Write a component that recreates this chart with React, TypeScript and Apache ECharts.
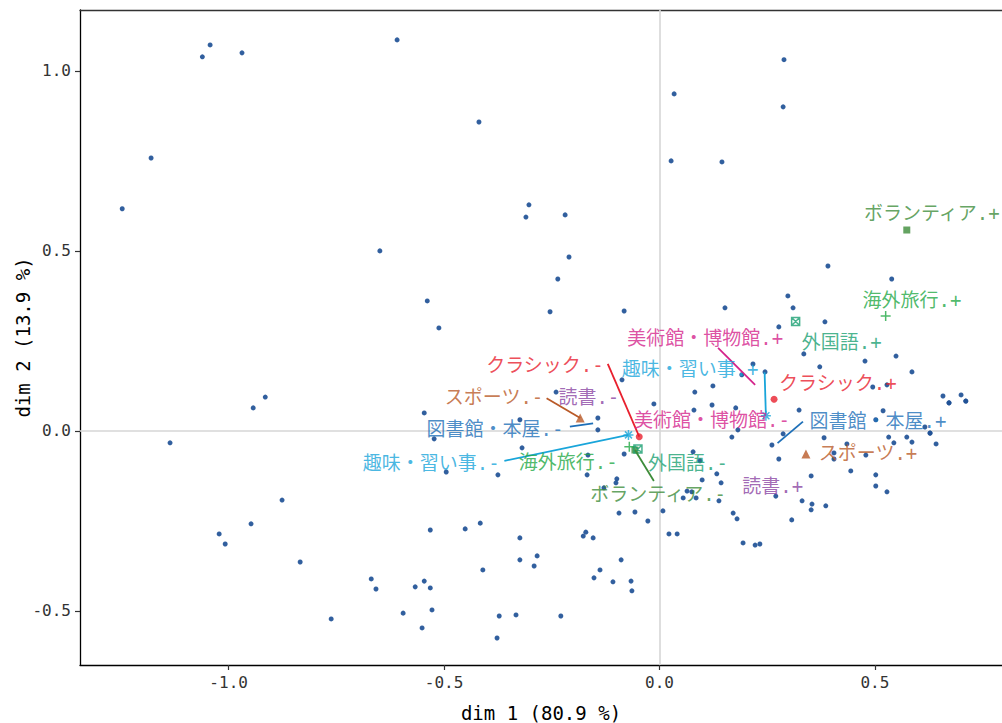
import React, { useEffect, useRef } from "react";
import * as echarts from "echarts";

// Individuals: coordinates on dim 1 / dim 2
const indDim1 = [
  -1.043, -1.061, -0.969, -1.18, -1.247, -0.649, -0.609, -0.419, 0.034, 0.027,
  -0.303, -0.31, -0.219, -0.21, 0.289, 0.287, 0.145, -0.915, -0.943, -1.136,
  -0.876, -0.948, -1.022, -1.008, -0.834, -0.669, -0.658, -0.762, -0.236, -0.539,
  -0.254, -0.082, -0.512, -0.087, -0.013, -0.24, -0.546, -0.143, -0.143, -0.324,
  -0.523, -0.319, -0.495, -0.375, -0.082, -0.166, -0.168, -0.099, -0.101, -0.129,
  -0.094, -0.057, -0.027, 0.008, 0.022, 0.041, -0.532, -0.451, -0.416, -0.324,
  -0.324, -0.284, -0.291, -0.41, -0.177, -0.171, -0.154, -0.089, -0.138, -0.152,
  -0.108, -0.066, -0.064, -0.567, -0.546, -0.532, -0.595, -0.528, -0.551, -0.372,
  -0.333, -0.229, -0.377, 0.082, 0.08, 0.391, 0.539, 0.298, 0.152, 0.31,
  0.277, 0.384, 0.335, 0.477, 0.549, 0.372, 0.586, 0.217, 0.245, 0.124,
  0.191, 0.495, 0.528, 0.658, 0.7, 0.672, 0.672, 0.711, 0.711, 0.122,
  0.177, 0.324, 0.519, 0.502, 0.616, 0.628, 0.628, 0.168, 0.182, 0.382,
  0.532, 0.574, 0.642, 0.544, 0.586, 0.479, 0.435, 0.405, 0.405, 0.261,
  0.277, 0.078, 0.094, 0.133, 0.143, 0.099, 0.064, 0.075, 0.055, 0.085,
  0.138, 0.352, 0.444, 0.502, 0.502, 0.528, 0.27, 0.331, 0.354, 0.352,
  0.386, 0.307, 0.171, 0.18, 0.194, 0.222, 0.233, 0.287,
];
const indDim2 = [
  1.072, 1.039, 1.05, 0.758, 0.617, 0.5, 1.086, 0.858, 0.936, 0.75,
  0.628, 0.594, 0.6, 0.483, 1.031, 0.9, 0.747, 0.094, 0.064, -0.033,
  -0.192, -0.258, -0.286, -0.314, -0.364, -0.411, -0.439, -0.522, 0.422, 0.361,
  0.331, 0.333, 0.286, 0.142, 0.075, 0.108, 0.05, 0.036, 0.003, 0.031,
  -0.022, -0.047, -0.114, -0.122, -0.064, -0.067, -0.122, -0.133, -0.144, -0.158,
  -0.228, -0.225, -0.25, -0.222, -0.286, -0.286, -0.275, -0.272, -0.256, -0.297,
  -0.358, -0.347, -0.375, -0.386, -0.292, -0.281, -0.297, -0.358, -0.386, -0.408,
  -0.419, -0.417, -0.444, -0.433, -0.417, -0.436, -0.506, -0.497, -0.547, -0.514,
  -0.511, -0.514, -0.575, 0.108, 0.058, 0.458, 0.422, 0.375, 0.342, 0.342,
  0.289, 0.303, 0.214, 0.194, 0.208, 0.178, 0.164, 0.186, 0.164, 0.125,
  0.156, 0.122, 0.128, 0.097, 0.1, 0.078, 0.078, 0.083, 0.083, 0.072,
  0.064, 0.058, 0.056, 0.031, 0.011, -0.006, -0.006, -0.017, 0.003, -0.019,
  -0.017, -0.017, -0.036, -0.033, -0.031, -0.067, -0.036, -0.061, -0.078, -0.039,
  -0.078, -0.058, -0.083, -0.119, -0.144, -0.136, -0.167, -0.169, -0.186, -0.186,
  -0.194, -0.125, -0.111, -0.122, -0.153, -0.169, -0.181, -0.194, -0.203, -0.219,
  -0.208, -0.247, -0.228, -0.244, -0.311, -0.317, -0.314, -0.008,
];

// Variables (each has a "+" and a "-" category)
const variables = [
  "クラシック", "スポーツ", "ボランティア", "海外旅行", "外国語",
  "趣味・習い事", "図書館・本屋", "読書", "美術館・博物館",
];

// Categories: name, variable index, coordinates
const catNames = [
  "クラシック.+", "クラシック.-", "スポーツ.+", "スポーツ.-",
  "ボランティア.+", "ボランティア.-", "海外旅行.+", "海外旅行.-",
  "外国語.+", "外国語.-", "趣味・習い事.+", "趣味・習い事.-",
  "図書館・本屋.+", "図書館・本屋.-", "読書.+", "読書.-",
  "美術館・博物館.+", "美術館・博物館.-",
];
const catVar = [0, 0, 1, 1, 2, 2, 3, 3, 4, 4, 5, 5, 6, 6, 7, 7, 8, 8];
const catDim1 = [
  0.266, -0.047, 0.34, -0.184, 0.574, -0.057, 0.525, -0.07, 0.316, -0.05,
  0.247, -0.072, 0.274, -0.154, 0.263, -0.164, 0.222, 0.122,
];
const catDim2 = [
  0.088, -0.016, -0.064, 0.036, 0.558, -0.053, 0.319, -0.044, 0.304, -0.05,
  0.042, -0.011, -0.034, 0.021, -0.153, 0.094, 0.128, 0.031,
];

// Repelled label placement (label centre, and where its leader segment starts)
const labelAt: [number, number][] = [
  [0.414, 0.133], [-0.266, 0.183], [0.484, -0.061], [-0.384, 0.094],
  [0.632, 0.606], [-0.003, -0.175], [0.586, 0.364], [-0.212, -0.086],
  [0.423, 0.247], [0.066, -0.089], [0.071, 0.172], [-0.53, -0.089],
  [0.507, 0.028], [-0.382, 0.006], [0.263, -0.153], [-0.164, 0.094],
  [0.106, 0.258], [0.122, 0.031],
];
const segFrom: ([number, number] | null)[] = [
  null, [-0.12, 0.186], null, [-0.262, 0.091],
  null, [-0.013, -0.139], null, null,
  null, null, [0.244, 0.163], [-0.36, -0.083],
  [0.333, 0.026], [-0.208, 0.012], null, null,
  [0.136, 0.231], null,
];

const varColors = [
  "#e8202e", "#b95a28", "#3d8c3a", "#22a845", "#1a9f72",
  "#19a5da", "#1d6fb8", "#8a44a2", "#d4248b",
];
// ggplot's six default shapes; the last three variables get none
const varSymbols: (string | null)[] = [
  "circle",
  "triangle",
  "rect",
  "path://M5,0L5,10M0,5L10,5",
  "path://M0,0L10,0L10,10L0,10ZM0,0L10,10M10,0L0,10",
  "path://M5,0L5,10M0,5L10,5M1.5,1.5L8.5,8.5M8.5,1.5L1.5,8.5",
  null,
  null,
  null,
];
const symbolSizes = [7, 9, 7, 10, 8, 10, 0, 0, 0];
const strokedSymbol = [false, false, false, true, true, true, false, false, false];

const FONT = "'DejaVu Sans Mono', 'Noto Sans CJK JP', sans-serif";
const X_MIN = -1.345;
const X_MAX = 0.795;
const Y_MIN = -0.65;
const Y_MAX = 1.169;
const X_TICKS = [-1.0, -0.5, 0.0, 0.5];
const Y_TICKS = [-0.5, 0.0, 0.5, 1.0];

export default function App() {
  const ref = useRef<HTMLDivElement>(null);

  useEffect(() => {
    document.body.style.margin = "0";
    if (!ref.current) return;
    const chart = echarts.init(ref.current, null, { renderer: "svg" });

    const individuals = indDim1.map((x, i) => [x, indDim2[i]]);

    const markerSeries = variables
      .map((v, vi) => {
        const sym = varSymbols[vi];
        if (!sym) return null;
        const stroked = strokedSymbol[vi];
        const data = catNames
          .map((n, ci) => ({ n, ci }))
          .filter((d) => catVar[d.ci] === vi)
          .map((d) => ({ name: d.n, value: [catDim1[d.ci], catDim2[d.ci]] }));
        return {
          type: "scatter",
          name: v,
          data,
          symbol: sym,
          symbolSize: symbolSizes[vi],
          z: 4,
          itemStyle: stroked
            ? { color: "transparent", borderColor: varColors[vi], borderWidth: 1.5 }
            : { color: varColors[vi] },
          silent: true,
        };
      })
      .filter(Boolean);

    const segmentData = catNames
      .map((n, ci) => {
        const s = segFrom[ci];
        if (!s) return null;
        return {
          coords: [s, [catDim1[ci], catDim2[ci]]],
          lineStyle: { color: varColors[catVar[ci]] },
        };
      })
      .filter(Boolean);

    const labelData = catNames.map((n, ci) => ({
      name: n,
      value: labelAt[ci],
      label: { color: varColors[catVar[ci]] },
    }));

    const axisCommon = {
      type: "value",
      splitLine: { show: false },
      axisLine: { show: true, onZero: false, lineStyle: { color: "#000", width: 1.3 } },
      axisTick: { show: true, length: 5, lineStyle: { color: "#333", width: 1.2 } },
      axisLabel: {
        color: "#333",
        fontFamily: FONT,
        fontSize: 16,
        formatter: (v: number) => v.toFixed(1),
      },
      nameLocation: "middle",
      nameMoveOverlap: false,
      nameTextStyle: { color: "#000", fontFamily: FONT, fontSize: 19 },
    };

    chart.setOption({
      animation: false,
      backgroundColor: "#fff",
      grid: {
        left: 80,
        right: 0,
        top: 10,
        bottom: 58,
        containLabel: false,
        outerBoundsMode: "none",
      },
      xAxis: [
        {
          ...axisCommon,
          min: X_MIN,
          max: X_MAX,
          name: "dim 1 (80.9 %)",
          nameGap: 38,
          axisTick: { ...axisCommon.axisTick, customValues: X_TICKS },
          axisLabel: { ...axisCommon.axisLabel, margin: 9, customValues: X_TICKS },
        },
        {
          type: "value",
          position: "top",
          min: X_MIN,
          max: X_MAX,
          axisLine: { show: true, onZero: false, lineStyle: { color: "#333", width: 1.3 } },
          axisTick: { show: false },
          axisLabel: { show: false },
          splitLine: { show: false },
        },
      ],
      yAxis: {
        ...axisCommon,
        min: Y_MIN,
        max: Y_MAX,
        name: "dim 2 (13.9 %)",
        nameGap: 48,
        axisTick: { ...axisCommon.axisTick, customValues: Y_TICKS },
        axisLabel: { ...axisCommon.axisLabel, margin: 9, customValues: Y_TICKS },
      },
      series: [
        {
          type: "scatter",
          name: "individuals",
          data: individuals,
          symbol: "circle",
          symbolSize: 5,
          itemStyle: { color: "#1f5196", opacity: 0.92 },
          z: 3,
          silent: true,
          markLine: {
            silent: true,
            symbol: "none",
            label: { show: false },
            lineStyle: { color: "#d6d6d6", width: 1.6, type: "solid" },
            data: [{ xAxis: 0 }, { yAxis: 0 }],
            z: 1,
          },
        },
        ...markerSeries,
        {
          type: "lines",
          coordinateSystem: "cartesian2d",
          data: segmentData,
          lineStyle: { width: 1.8, opacity: 1 },
          z: 5,
          silent: true,
        },
        {
          type: "scatter",
          name: "labels",
          data: labelData,
          symbol: "circle",
          symbolSize: 0.1,
          itemStyle: { color: "transparent" },
          z: 6,
          silent: true,
          label: {
            show: true,
            position: "inside",
            align: "center",
            verticalAlign: "middle",
            fontFamily: FONT,
            fontSize: 19,
            formatter: (p: any) => p.name,
          },
        },
      ],
    });

    return () => chart.dispose();
  }, []);

  return <div ref={ref} style={{ width: 1002, height: 723 }} />;
}
